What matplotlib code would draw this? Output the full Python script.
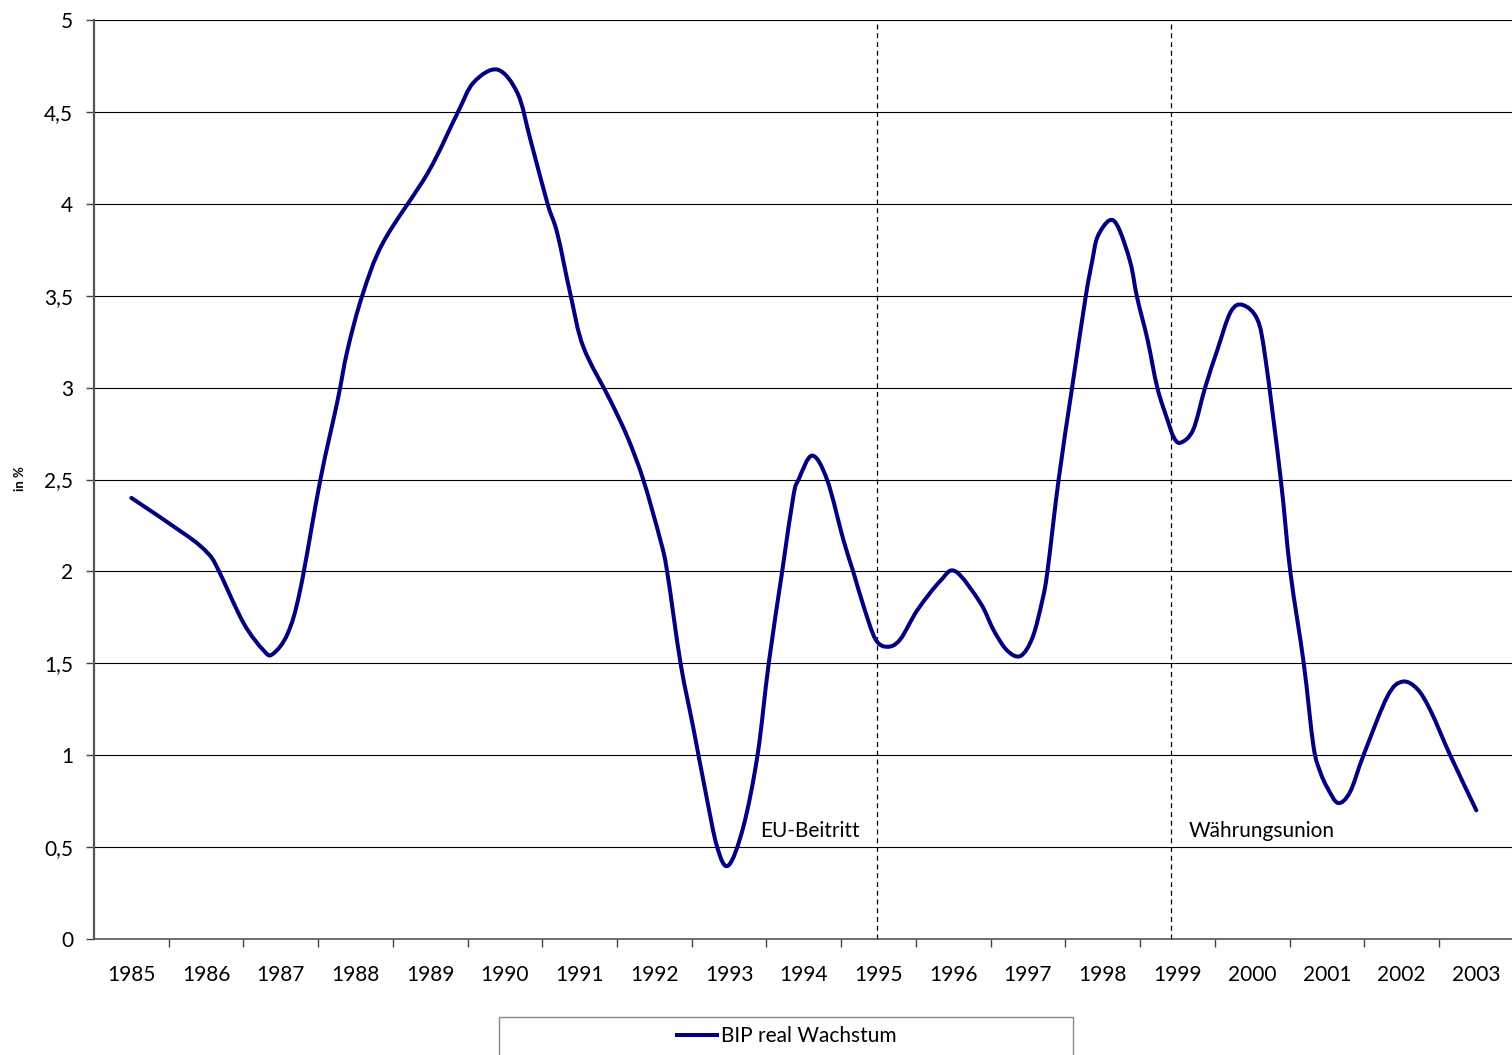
import matplotlib
matplotlib.use("Agg")
import matplotlib.pyplot as plt
from matplotlib.lines import Line2D
from matplotlib.patches import Rectangle, PathPatch
from matplotlib.path import Path
from matplotlib.ticker import FixedLocator, FuncFormatter

# readings of the curve (position in years, growth in %)
years = [
    1985.00, 1985.76, 1986.02, 1986.15, 1986.50, 1986.77, 1986.89, 1987.09,
    1987.26, 1987.53, 1987.76, 1987.89, 1988.09, 1988.37, 1988.97, 1989.36,
    1989.58, 1989.90, 1990.17, 1990.34, 1990.57, 1990.70, 1990.88, 1991.05,
    1991.41, 1991.64, 1991.85, 1992.08, 1992.17, 1992.35, 1992.52, 1992.68,
    1992.84, 1992.99, 1993.19, 1993.38, 1993.53, 1993.71, 1993.86, 1993.93,
    1994.11, 1994.31, 1994.53, 1994.66, 1994.80, 1994.96, 1995.12, 1995.29,
    1995.52, 1995.83, 1996.03, 1996.36, 1996.54, 1996.72, 1996.90, 1997.06,
    1997.19, 1997.26, 1997.41, 1997.59, 1997.77, 1997.86, 1997.93, 1998.09,
    1998.21, 1998.37, 1998.46, 1998.60, 1998.73, 1998.87, 1998.95, 1999.04,
    1999.21, 1999.37, 1999.53, 1999.71, 1999.87, 2000.07, 2000.18, 2000.38,
    2000.51, 2000.69, 2000.82, 2000.91, 2001.01, 2001.15, 2001.31, 2001.49,
    2001.81, 2002.01, 2002.21, 2002.39, 2002.65, 2003.00,
]
bip_growth = [
    2.40, 2.19, 2.10, 2.02, 1.72, 1.57, 1.55, 1.66,
    1.90, 2.50, 2.93, 3.20, 3.50, 3.79, 4.17, 4.49,
    4.66, 4.73, 4.60, 4.35, 4.00, 3.84, 3.50, 3.22,
    2.93, 2.73, 2.50, 2.17, 2.00, 1.50, 1.15, 0.81,
    0.50, 0.40, 0.61, 1.00, 1.50, 2.00, 2.41, 2.50,
    2.63, 2.50, 2.17, 2.00, 1.81, 1.63, 1.59, 1.63,
    1.79, 1.95, 2.00, 1.83, 1.68, 1.57, 1.54, 1.64,
    1.84, 2.00, 2.50, 3.00, 3.49, 3.69, 3.82, 3.91,
    3.87, 3.68, 3.49, 3.26, 3.00, 2.82, 2.73, 2.70,
    2.77, 3.00, 3.20, 3.41, 3.45, 3.37, 3.15, 2.51,
    2.00, 1.50, 1.05, 0.91, 0.82, 0.74, 0.80, 1.00,
    1.32, 1.40, 1.36, 1.24, 1.00, 0.70,
]
year_labels = list(range(1985, 2004))
event_names = ["EU-Beitritt", "Währungsunion"]
event_years = [1994.98, 1998.92]

LINE_COLOR = "#000080"


def smooth_path(xs, ys):
    """Excel-like smoothed line: cubic Bezier segments through the points."""
    pts = list(zip(xs, ys))
    verts = [pts[0]]
    codes = [Path.MOVETO]
    n = len(pts)
    for i in range(n - 1):
        p0 = pts[max(i - 1, 0)]
        p1 = pts[i]
        p2 = pts[i + 1]
        p3 = pts[min(i + 2, n - 1)]
        c1 = (p1[0] + (p2[0] - p0[0]) / 6, p1[1] + (p2[1] - p0[1]) / 6)
        c2 = (p2[0] - (p3[0] - p1[0]) / 6, p2[1] - (p3[1] - p1[1]) / 6)
        verts += [c1, c2, p2]
        codes += [Path.CURVE4] * 3
    return Path(verts, codes)


plt.rcParams["font.family"] = ["Lato", "DejaVu Sans"]

fig = plt.figure(figsize=(15.12, 10.55), dpi=100)
ax = fig.add_axes([94 / 1512, 116 / 1055, 1419.7 / 1512, 919 / 1055])

ax.add_patch(PathPatch(smooth_path(years, bip_growth), facecolor="none",
                       edgecolor=LINE_COLOR, linewidth=2.9,
                       capstyle="round", joinstyle="round", zorder=3))

for name, yr, side in zip(event_names, event_years, ["right", "left"]):
    ax.axvline(yr, color="black", linestyle=(0, (4, 3)), linewidth=0.9,
               zorder=2)
    offset = -0.23 if side == "right" else 0.23
    ax.text(yr + offset, 0.59, name, ha=side, va="center", fontsize=15)

ax.set_xlim(1984.5, 2003.5)
ax.set_ylim(0, 5)

ax.xaxis.set_major_locator(FixedLocator(year_labels))
ax.xaxis.set_major_formatter(FuncFormatter(lambda v, p: f"{int(round(v))}"))
ax.xaxis.set_minor_locator(FixedLocator([y + 0.5 for y in year_labels[:-1]]))
ax.tick_params(axis="x", which="major", length=0, pad=19, labelsize=15)
ax.tick_params(axis="x", which="minor", length=6, width=1, color="#444444")

ax.set_yticks([i * 0.5 for i in range(11)])
ax.yaxis.set_major_formatter(
    FuncFormatter(lambda v, p: f"{v:g}".replace(".", ",")))
ax.tick_params(axis="y", length=6, width=1, pad=9, labelsize=15,
               color="#444444")

ax.grid(axis="y", color="black", linewidth=0.8)
ax.set_axisbelow(True)

for s in ["top", "right"]:
    ax.spines[s].set_visible(False)
ax.spines["left"].set_linewidth(1.6)
ax.spines["left"].set_color("#555555")
ax.spines["bottom"].set_linewidth(1.2)
ax.spines["bottom"].set_color("#555555")

fig.text(20 / 1512, 1 - 479 / 1055, "in %", rotation=90, fontsize=9.5,
         fontweight="bold", ha="center", va="center")

fig.patches.append(Rectangle((499 / 1512, -0.01), 574 / 1512,
                             (1055 - 1017) / 1055 + 0.01,
                             transform=fig.transFigure, facecolor="white",
                             edgecolor="#888888", linewidth=1))
handle = Line2D([], [], color=LINE_COLOR, linewidth=2.9)
fig.legend([handle], ["BIP real Wachstum"], loc="center",
           bbox_to_anchor=(787 / 1512, 1 - 1036 / 1055),
           frameon=False, fontsize=15, handlelength=1.9, handletextpad=0.2)

fig.savefig("out.png", dpi=100)
